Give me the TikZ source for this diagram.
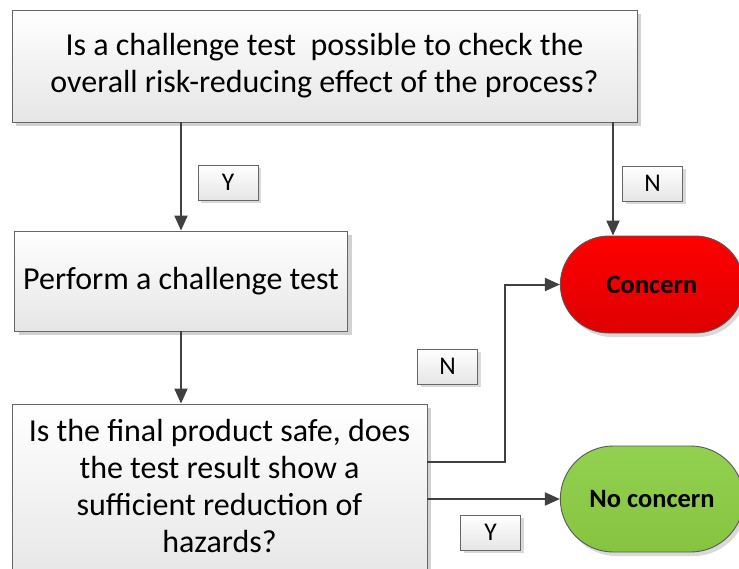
\documentclass[tikz,border=0pt]{standalone}
\usepackage{fontspec}
\setmainfont{Carlito}
\usetikzlibrary{shapes.misc,shadows,arrows.meta}

\definecolor{concernred}{RGB}{255,0,0}
\definecolor{concernreddark}{RGB}{222,0,0}
\definecolor{safegreen}{RGB}{146,208,80}
\definecolor{safegreendark}{RGB}{134,196,64}

\tikzset{
  stepbox/.style={draw=black!60, line width=0.9pt, top color=white, bottom color=black!10,
    drop shadow={shadow xshift=4pt, shadow yshift=-4pt, fill=black!18, opacity=1},
    align=center, inner sep=0pt, font=\fontsize{32}{37}\selectfont},
  endbox/.style={rounded rectangle, draw=black!65, line width=0.9pt,
    drop shadow={shadow xshift=3pt, shadow yshift=-4pt, fill=black!15, opacity=1},
    minimum width=190pt, font=\fontsize{26.5}{30}\selectfont\bfseries},
  answer/.style={draw=black!60, line width=0.8pt, top color=white, bottom color=black!10,
    drop shadow={shadow xshift=3pt, shadow yshift=-3pt, fill=black!15, opacity=1},
    minimum width=60pt, minimum height=35pt, inner sep=0pt, font=\fontsize{25.5}{28}\selectfont},
  flow/.style={draw=black!75, line width=2pt, -{Triangle[length=15pt,width=13pt]}}
}

\begin{document}
\begin{tikzpicture}[x=1pt, y=-1pt]
\useasboundingbox (0,0) rectangle (739,568);

% questions and steps
\node[stepbox, minimum width=625pt, minimum height=112pt] (test) at (324.5,66)
  {Is a challenge test\ \ possible to check the\\overall risk-reducing effect of the process?};
\node[stepbox, minimum width=333pt, minimum height=100pt] (perform) at (181,281)
  {Perform a challenge test};
\node[stepbox, minimum width=415pt, minimum height=180pt, text depth=16pt] (safe) at (219.5,494)
  {Is the final product safe, does\\the test result show a\\sufficient reduction of\\hazards?};

% outcomes
\node[endbox, minimum height=97pt, top color=concernred, bottom color=concernreddark] (concern) at (652,284.5) {Concern};
\node[endbox, minimum height=106pt, top color=safegreen, bottom color=safegreendark] (noconcern) at (652,499) {No concern};

% connectors
\draw[flow] (perform.north |- test.south) -- (perform.north);
\draw[flow] ([xshift=-39pt]concern.north |- test.south) -- ([xshift=-39pt]concern.north);
\draw[flow] (perform.south) -- (perform.south |- safe.north);
\draw[flow] ([yshift=32pt]safe.east) -| ([xshift=-55pt]concern.west) -- (concern.west);
\draw[flow] (safe.east |- noconcern.west) -- (noconcern.west);

% answers
\node[answer] (yes1) at (228,182.5) {Y};
\node[answer] (no1) at (652.5,183.5) {N};
\node[answer] (no2) at (447.5,366.5) {N};
\node[answer] (yes2) at (490.5,532.5) {Y};
\end{tikzpicture}
\end{document}
